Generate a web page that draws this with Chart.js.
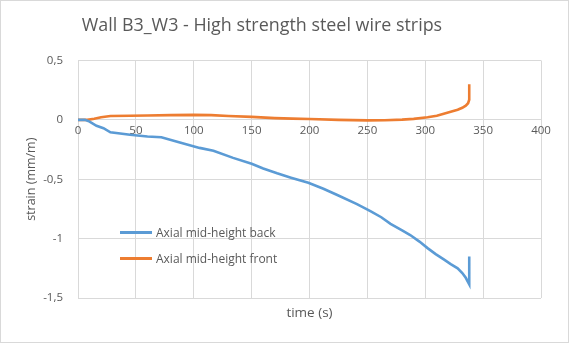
<!DOCTYPE html>
<html>
<head>
<meta charset="utf-8">
<script src="https://cdn.jsdelivr.net/npm/chart.js@4.4.1/dist/chart.umd.min.js"></script>
<style>
  html, body { margin: 0; padding: 0; background: #fff; }
  #wrap { position: relative; width: 569px; height: 343px; box-sizing: border-box; border: 1px solid #d9d9d9; background: #fff; }
  #c { position: absolute; left: 0; top: 0; }
  #legend { position: absolute; left: 119px; top: 219px; font-family: "Open Sans", sans-serif; font-size: 12px; color: #595959; }
  #legend div { height: 25.5px; display: flex; align-items: center; }
  #legend span.sw { display: inline-block; width: 32px; height: 3px; margin-right: 4px; }
</style>
</head>
<body>
<div id="wrap">
  <canvas id="c" width="567" height="341"></canvas>
  <div id="legend"></div>
</div>
<script>
const chartTitle = "Wall B3_W3 - High strength steel wire strips";
const xTitle = "time (s)";
const yTitle = "strain (mm/m)";
const seriesNames = ["Axial mid-height back", "Axial mid-height front"];
const seriesColors = ["#5B9BD5", "#ED7D31"];

// Axial mid-height back
const backTime   = [0, 6, 10, 16, 22, 28, 45, 60, 72, 88, 105, 117, 134, 150, 160, 172, 184, 199, 212, 224, 241, 253, 262, 270, 280, 287, 295, 302, 309, 316, 322, 328, 332, 335, 338, 338, 338];
const backStrain = [0, 0, -0.015, -0.05, -0.07, -0.105, -0.125, -0.14, -0.147, -0.19, -0.236, -0.26, -0.32, -0.37, -0.41, -0.45, -0.487, -0.53, -0.58, -0.633, -0.71, -0.77, -0.82, -0.875, -0.93, -0.97, -1.025, -1.08, -1.13, -1.175, -1.215, -1.25, -1.29, -1.33, -1.385, -1.3, -1.15];

// Axial mid-height front
const frontTime   = [0, 8, 14, 20, 28, 45, 60, 80, 100, 115, 130, 150, 170, 185, 200, 225, 250, 265, 280, 290, 302, 310, 316, 322, 328, 332, 335, 337, 338, 338, 338];
const frontStrain = [0, 0, 0.01, 0.022, 0.033, 0.035, 0.037, 0.04, 0.042, 0.04, 0.033, 0.025, 0.015, 0.01, 0.007, 0, -0.004, -0.003, 0.002, 0.008, 0.022, 0.035, 0.052, 0.068, 0.085, 0.102, 0.12, 0.14, 0.17, 0.23, 0.3];

const xTicks = [0, 50, 100, 150, 200, 250, 300, 350, 400];
const yTicks = [0.5, 0, -0.5, -1, -1.5];

const FONT = "'Open Sans', sans-serif";
const TXT = "#595959";
const GRID = "#d9d9d9";

function toPts(xs, ys) { return xs.map((x, i) => ({ x: x, y: ys[i] })); }
const comma = v => String(v).replace('.', ',');

// centre the title over the whole chart box (Excel style) rather than the padded layout box
const titleShift = {
  id: 'titleShift',
  afterLayout(chart) { if (chart.titleBlock) { chart.titleBlock.right -= 18; chart.titleBlock.width -= 18; } }
};

const ctx = document.getElementById('c');
const chart = new Chart(ctx, {
  type: 'line',
  data: {
    datasets: [
      { label: seriesNames[0], data: toPts(backTime, backStrain), borderColor: seriesColors[0], backgroundColor: seriesColors[0], borderWidth: 2.6, pointRadius: 0, tension: 0, xAxisID: 'x', yAxisID: 'y' },
      { label: seriesNames[1], data: toPts(frontTime, frontStrain), borderColor: seriesColors[1], backgroundColor: seriesColors[1], borderWidth: 2.6, pointRadius: 0, tension: 0, xAxisID: 'x', yAxisID: 'y' }
    ]
  },
  plugins: [titleShift],
  options: {
    responsive: false,
    animation: false,
    devicePixelRatio: 1,
    layout: { padding: { left: 0, right: 27, top: 0, bottom: 21 } },
    plugins: {
      legend: { display: false },
      tooltip: { enabled: false },
      title: {
        display: true, text: chartTitle, color: TXT,
        font: { family: FONT, size: 17.9, weight: 'normal' },
        padding: { top: 14, bottom: 24 },
        fullSize: true
      }
    },
    scales: {
      x: {
        type: 'linear', min: 0, max: 400,
        position: { y: 0 },
        afterBuildTicks: s => { s.ticks = xTicks.map(v => ({ value: v })); },
        ticks: { color: TXT, font: { family: FONT, size: 11.5 }, padding: 4, maxRotation: 0, callback: v => comma(v) },
        grid: { color: GRID, lineWidth: 1, drawTicks: false },
        border: { display: false }
      },
      x2: {
        type: 'linear', min: 0, max: 400, position: 'bottom',
        ticks: { display: false },
        grid: { display: false, drawTicks: false },
        border: { display: false },
        title: { display: true, text: xTitle, color: TXT, font: { family: FONT, size: 13.5 }, padding: { top: 0, bottom: 0 } },
        afterFit: s => { s.height = 23; }
      },
      y: {
        type: 'linear', min: -1.5, max: 0.5,
        afterBuildTicks: s => { s.ticks = yTicks.map(v => ({ value: v })); },
        ticks: { color: TXT, font: { family: FONT, size: 11.5 }, padding: 15, callback: v => comma(v) },
        grid: { color: GRID, lineWidth: 1, drawTicks: false },
        border: { display: false },
        title: { display: true, text: yTitle, color: TXT, font: { family: FONT, size: 12.5 }, padding: { top: 23, bottom: 0 } },
        afterFit: s => { s.width = 77; }
      }
    }
  }
});

// HTML legend built from the dataset labels/colours
const lg = document.getElementById('legend');
chart.data.datasets.forEach(ds => {
  const row = document.createElement('div');
  const sw = document.createElement('span'); sw.className = 'sw'; sw.style.background = ds.borderColor;
  const t = document.createElement('span'); t.textContent = ds.label;
  row.appendChild(sw); row.appendChild(t); lg.appendChild(row);
});
</script>
</body>
</html>
